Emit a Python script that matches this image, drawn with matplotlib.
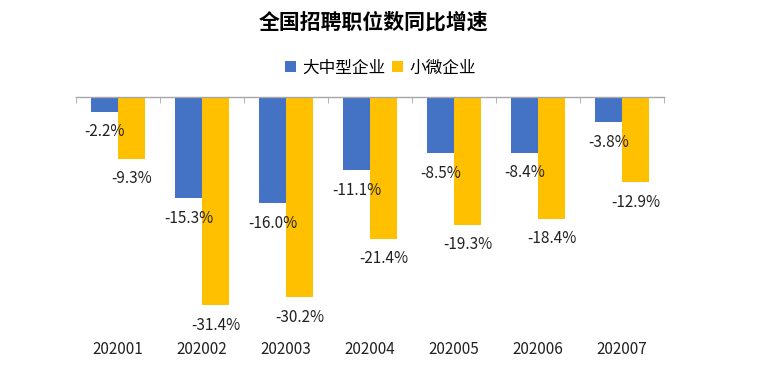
import numpy as np
import matplotlib
matplotlib.use("Agg")
import matplotlib.pyplot as plt

plt.rcParams['font.family'] = ['Noto Sans CJK SC', 'DejaVu Sans']

# 数据
periodos = ["202001", "202002", "202003", "202004", "202005", "202006", "202007"]
grandes = [-2.2, -15.3, -16.0, -11.1, -8.5, -8.4, -3.8]
pequenas = [-9.3, -31.4, -30.2, -21.4, -19.3, -18.4, -12.9]

AZUL = "#4472C4"
AMARILLO = "#FFC000"

fig = plt.figure(figsize=(7.79, 3.68), dpi=100)
ax = fig.add_axes([0.0976, 0.1068, 0.7548, 0.6296])

x = np.arange(len(periodos))
ancho = 0.32
b1 = ax.bar(x - ancho / 2, grandes, ancho, color=AZUL, label="大中型企业")
b2 = ax.bar(x + ancho / 2, pequenas, ancho, color=AMARILLO, label="小微企业")

for barras, valores in ((b1, grandes), (b2, pequenas)):
    for r, v in zip(barras, valores):
        ax.annotate(f"{v:.1f}%", (r.get_x() + r.get_width() / 2, v),
                    xytext=(0, -14.5), textcoords="offset points",
                    ha="center", va="center", fontsize=11, color="#222222")

ax.set_xlim(-0.5, len(periodos) - 0.5)
ax.set_ylim(-35, 0)

for s in ("left", "right", "bottom"):
    ax.spines[s].set_visible(False)
ax.spines["top"].set_color("#A6A6A6")
ax.spines["top"].set_linewidth(1.0)

ax.set_yticks([])
ax.set_xticks(x)
ax.set_xticklabels(periodos, fontsize=11, color="#222222")
ax.tick_params(axis="x", which="major", length=0, pad=9)
ax.set_xticks(np.arange(-0.5, len(periodos)), minor=True)
ax.tick_params(axis="x", which="minor", top=True, bottom=False,
               direction="in", length=4, color="#A6A6A6")

fig.text(0.4795, 0.94, "全国招聘职位数同比增速", ha="center", va="center",
         fontsize=15, fontweight="bold")
fig.legend(handles=[b1, b2], loc="center", bbox_to_anchor=(0.4885, 0.815),
           ncol=2, frameon=False, fontsize=12, handlelength=0.65,
           handleheight=0.65, handletextpad=0.4, columnspacing=0.4)

fig.savefig("out.png", dpi=100)
